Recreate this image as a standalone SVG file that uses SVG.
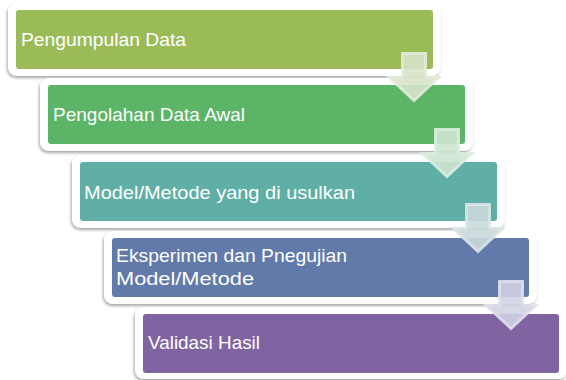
<svg xmlns="http://www.w3.org/2000/svg" width="566" height="380" viewBox="0 0 566 380">
  <defs>
    <filter id="shadow" x="-5%" y="-20%" width="110%" height="150%">
      <feDropShadow dx="-1" dy="2" stdDeviation="1.6" flood-color="#000" flood-opacity="0.35"/>
    </filter>
    <style>
      .frame { fill: #ffffff; filter: url(#shadow); }
      .label { font-family: "Liberation Sans", Arial, sans-serif; font-size: 19px; fill: #ffffff; }
      .arrow { stroke-width: 3; stroke-linejoin: miter; fill-opacity: 0.9; stroke-opacity: 0.9; }
    </style>
  </defs>
  <rect width="566" height="380" fill="#ffffff"/>

  <g id="step1">
    <rect class="frame" x="8" y="3" width="433" height="73" rx="9"/>
    <rect x="16" y="10" width="417" height="59" rx="3" fill="#9bbb59"/>
    <text class="label" x="21" y="46" font-size="20.5" textLength="165" lengthAdjust="spacingAndGlyphs">Pengumpulan Data</text>
  </g>

  <g id="step2">
    <rect class="frame" x="40" y="78" width="433" height="73" rx="9"/>
    <rect x="48" y="85" width="417" height="59" rx="3" fill="#5cb567"/>
    <text class="label" x="53" y="121" textLength="192" lengthAdjust="spacingAndGlyphs">Pengolahan Data Awal</text>
  </g>

  <g id="step3">
    <rect class="frame" x="72" y="155" width="433" height="73" rx="9"/>
    <rect x="80" y="162" width="417" height="59" rx="3" fill="#5fafa6"/>
    <text class="label" x="84" y="199" font-size="20" textLength="271" lengthAdjust="spacingAndGlyphs">Model/Metode yang di usulkan</text>
  </g>

  <g id="step4">
    <rect class="frame" x="104" y="231" width="433" height="73" rx="9"/>
    <rect x="112" y="238" width="417" height="59" rx="3" fill="#627aa9"/>
    <text class="label" x="116" y="262" textLength="231" lengthAdjust="spacingAndGlyphs">Eksperimen dan Pnegujian</text>
    <text class="label" x="116" y="285" textLength="138" lengthAdjust="spacingAndGlyphs">Model/Metode</text>
  </g>

  <g id="step5">
    <rect class="frame" x="135" y="307" width="432" height="72" rx="9"/>
    <rect x="143" y="314" width="416" height="59" rx="3" fill="#8064a2"/>
    <text class="label" x="148" y="349" textLength="112" lengthAdjust="spacingAndGlyphs">Validasi Hasil</text>
  </g>

  <g id="connectors">
    <path class="arrow" fill="#d6e3c9" stroke="#e2ebd9" d="M402.5,53.5 h23 v24 h13 l-24.5,23 l-24.5,-23 h13 z"/>
    <path class="arrow" fill="#cde5d1" stroke="#dcede0" d="M435.5,129.5 h23 v24 h13 l-24.5,23 l-24.5,-23 h13 z"/>
    <path class="arrow" fill="#cbd9dc" stroke="#dae4e6" d="M466.5,204.5 h23 v24 h13 l-24.5,23 l-24.5,-23 h13 z"/>
    <path class="arrow" fill="#d0d2e3" stroke="#dfe0ec" d="M499.5,281.5 h23 v24 h13 l-24.5,23 l-24.5,-23 h13 z"/>
  </g>
</svg>
